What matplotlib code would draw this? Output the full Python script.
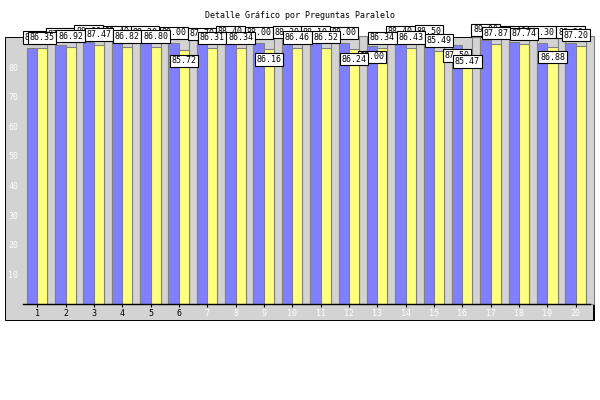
import numpy as np
import matplotlib
matplotlib.use('Agg')
import matplotlib.pyplot as plt
from matplotlib.patches import Rectangle

# datos por pregunta
preguntas = list(range(1, 21))
serie_azul = [86.50, 87.60, 88.60, 88.40, 88.20, 88.00, 87.70, 88.40, 88.00, 88.30,
              88.10, 88.00, 87.00, 88.40, 88.50, 87.50, 89.00, 88.40, 88.30, 88.20]
serie_amarilla = [86.35, 86.92, 87.47, 86.82, 86.80, 85.72, 86.31, 86.34, 86.16, 86.46,
                  86.52, 86.24, 86.34, 86.43, 85.49, 85.47, 87.87, 87.74, 86.88, 87.20]
serie_gris = [90.3, 90.5, 90.6, 90.4, 90.3, 90.2, 90.3, 90.2, 90.2, 90.4,
              90.3, 90.4, 90.2, 90.3, 90.5, 90.3, 90.6, 90.5, 90.6, 90.4]
# etiquetas que salen dentro de la barra
azul_dentro = [13, 16]
amarilla_dentro = [6, 9, 12, 16, 19]

GRIS = '#d3d3d3'
BORDE = '#808080'
MONO = 'DejaVu Sans Mono'

fig = plt.figure(figsize=(6, 4), dpi=100)

# marco con sombra
fig.patches.append(Rectangle((7 / 600, 79 / 400), 588 / 600, 283 / 400,
                             transform=fig.transFigure, facecolor='black',
                             edgecolor='none', zorder=-2))
fig.patches.append(Rectangle((5 / 600, 80 / 400), 588 / 600, 283 / 400,
                             transform=fig.transFigure, facecolor=GRIS,
                             edgecolor='black', lw=0.7, zorder=-1))

ax = fig.add_axes([23 / 600, 96 / 400, 567 / 600, 266.5 / 400])
ax.set_facecolor(GRIS)
ax.set_xlim(0.5, 20.5)
ax.set_ylim(0, 90)

x = np.array(preguntas, dtype=float)
ax.bar(x - 0.185, serie_azul, width=0.37, color='#8080ff', edgecolor=BORDE, lw=0.8, zorder=2)
ax.bar(x + 0.1775, serie_amarilla, width=0.355, color='#ffff80', edgecolor=BORDE, lw=0.8, zorder=2)
grises = ax.bar(x + 0.4925, serie_gris, width=0.275, color=GRIS, edgecolor=BORDE, lw=0.8, zorder=1)
for p in grises:
    p.set_clip_on(False)


def etiquetas(xs, vals, dentro, z):
    lo, hi = 0.5 + 0.5, 20.5 - 0.5
    for i, (xx, v) in enumerate(zip(xs, vals)):
        cx = min(max(xx, lo), hi)
        if (i + 1) in dentro:
            off, va = -6, 'top'
        else:
            off, va = 6, 'bottom'
        ax.annotate('%.2f' % v, (cx, v), xytext=(0, off), textcoords='offset pixels',
                    ha='center', va=va, fontsize=6, family=MONO,
                    bbox=dict(boxstyle='square,pad=0.2', fc='white', ec='black', lw=0.8),
                    zorder=z, annotation_clip=False)


etiquetas(x - 0.185, serie_azul, azul_dentro, 5)
etiquetas(x + 0.1775, serie_amarilla, amarilla_dentro, 6)

ax.set_xticks(x)
ax.set_xticklabels([str(p) for p in preguntas], fontsize=6, family=MONO)
for p, lab in zip(preguntas, ax.get_xticklabels()):
    lab.set_color('black' if p <= 6 else 'white')
ax.tick_params(axis='x', direction='inout', length=5, width=0.8, color='black', pad=1)

ax.set_yticks(range(10, 90, 10))
ax.set_yticklabels([str(v) for v in range(10, 90, 10)], fontsize=6, family=MONO, color='white')
ax.tick_params(axis='y', length=0, pad=3.4)

for s in ['left', 'top', 'right']:
    ax.spines[s].set_visible(False)
ax.spines['bottom'].set_color('black')
ax.spines['bottom'].set_linewidth(1)

fig.text(0.5, 1 - 15 / 400, 'Detalle Gráfico por Preguntas Paralelo',
         ha='center', va='center', fontsize=6, family=MONO)

fig.savefig('out.png', dpi=100)
